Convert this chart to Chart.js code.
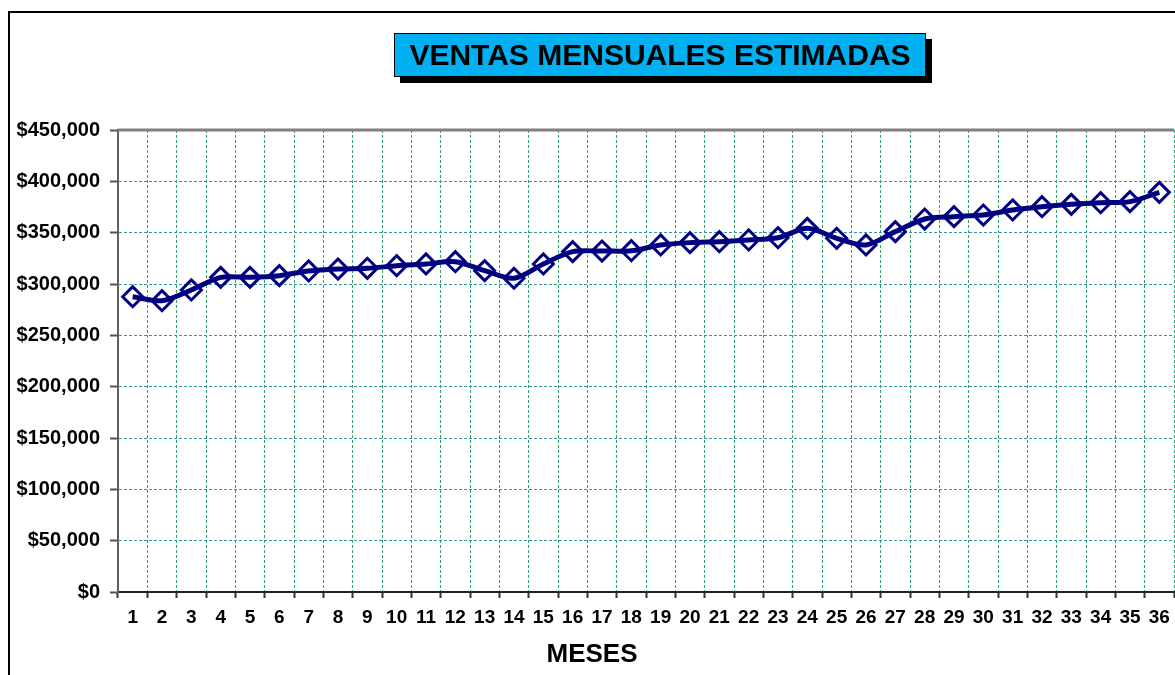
<!DOCTYPE html>
<html>
<head>
<meta charset="utf-8">
<script src="https://cdn.jsdelivr.net/npm/chart.js@4"></script>
<style>
  body { margin: 0; background: #fff; overflow: hidden; }
  #wrap { position: relative; width: 1175px; height: 675px; overflow: hidden; }
  #frame { position: absolute; left: 8px; top: 11px; width: 1200px; height: 700px;
    border-left: 2px solid #000; border-top: 2px solid #000; pointer-events: none; }
  #title { position: absolute; left: 394px; top: 33px; width: 530px; height: 42px;
    background: #00b0f0; border: 1px solid #000; box-shadow: 6px 6px 0 #000;
    font: bold 30px "Liberation Sans", Arial, sans-serif; line-height: 42px;
    text-align: center; color: #000; }
  #xtitle { position: absolute; left: 492px; top: 638px; width: 200px; text-align: center;
    font: bold 26px "Liberation Sans", Arial, sans-serif; color: #000; }
</style>
</head>
<body>
<div id="wrap">
  <canvas id="ventasChart" width="1187" height="675"></canvas>
  <div id="frame"></div>
  <div id="title">VENTAS MENSUALES ESTIMADAS</div>
  <div id="xtitle">MESES</div>
</div>
<script>
// DATA
const meses = ["1","2","3","4","5","6","7","8","9","10","11","12","13","14","15","16","17","18",
  "19","20","21","22","23","24","25","26","27","28","29","30","31","32","33","34","35","36"];

const ventas = [287600, 283700, 294200, 306500, 306500, 308100, 312700, 314600, 315300, 317800,
  319500, 321700, 313000, 305600, 319500, 331500, 332100, 332400, 338000, 340300,
  341200, 342900, 345100, 354200, 344500, 338000, 351000, 363300, 365600, 367200,
  372100, 375300, 377600, 379200, 380200, 389300];

const yMin = 0;
const yMax = 450000;
const yStep = 50000;

const xFont = { family: "Liberation Sans, Arial, sans-serif", size: 19, weight: "bold" };
const yFont = { family: "Liberation Sans, Arial, sans-serif", size: 20, weight: "bold" };

// top border of the plot area
const topBorder = {
  id: "topBorder",
  afterDraw(chart) {
    const { ctx, chartArea } = chart;
    ctx.save();
    ctx.strokeStyle = "#808080";
    ctx.lineWidth = 3;
    ctx.beginPath();
    ctx.moveTo(chartArea.left, chartArea.top);
    ctx.lineTo(chartArea.right, chartArea.top);
    ctx.stroke();
    ctx.restore();
  }
};

const ctx = document.getElementById("ventasChart").getContext("2d");

const ventasChart = new Chart(ctx, {
  type: "line",
  data: {
    labels: meses,
    datasets: [{
      label: "Ventas",
      data: ventas,
      borderColor: "#000080",
      borderWidth: 5,
      tension: 0.3,
      pointStyle: "rectRot",
      pointRadius: 10,
      pointBorderWidth: 3,
      pointBorderColor: "#000080",
      pointBackgroundColor: "rgba(0,0,0,0)"
    }]
  },
  options: {
    responsive: false,
    animation: false,
    devicePixelRatio: 1,
    layout: { padding: { left: 12, top: 130, right: 0, bottom: 43 } },
    plugins: { legend: { display: false }, tooltip: { enabled: false } },
    scales: {
      x: {
        offset: true,
        grid: {
          offset: true,
          color: "#33a06a",
          lineWidth: 1,
          tickLength: 6,
          tickColor: "#333",
          tickWidth: 2
        },
        border: { display: true, color: "#222", width: 2, dash: [3, 2] },
        ticks: { color: "#000", font: xFont, padding: 8, maxRotation: 0, autoSkip: false },
        afterFit(scale) { scale.height = 40; }
      },
      y: {
        min: yMin,
        max: yMax,
        ticks: {
          stepSize: yStep,
          color: "#000",
          font: yFont,
          padding: 10,
          callback: (v) => "$" + v.toLocaleString("en-US")
        },
        grid: {
          //no dashed line on the top, the plugin draws it
          color: (c) => (c.tick && c.tick.value === yMax) ? "rgba(0,0,0,0)" : "#3399a0",
          lineWidth: 1,
          tickLength: 8,
          tickColor: "#555",
          tickWidth: 2
        },
        border: { display: true, color: "#606060", width: 2, dash: [3, 2] },
        afterFit(scale) { scale.width = 106; }
      }
    }
  },
  plugins: [topBorder]
});
</script>
</body>
</html>
